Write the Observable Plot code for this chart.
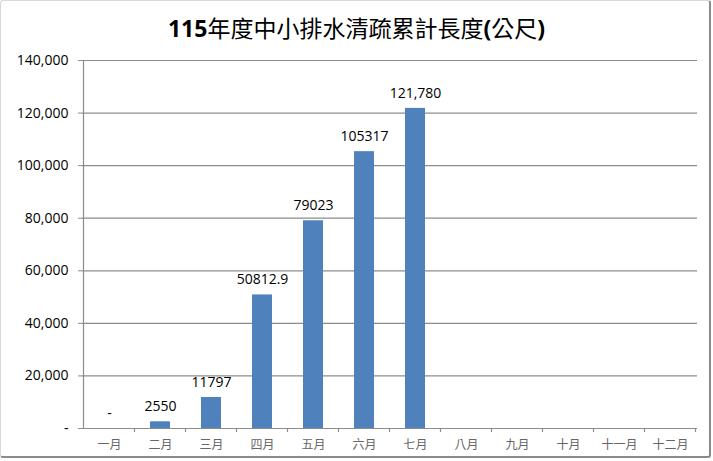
<!DOCTYPE html>
<html>
<head>
<meta charset="utf-8">
<script src="https://cdn.jsdelivr.net/npm/d3@7"></script>
<script src="https://cdn.jsdelivr.net/npm/@observablehq/plot@0.6"></script>
<style>
  html, body { margin: 0; padding: 0; background: #fff; }
  #wrap { position: relative; width: 713px; height: 461px; overflow: hidden; background: #fff; }
  #frame { position: absolute; left: 0; top: 0; width: 708px; height: 455px;
           border-top: 1px solid #d8d8d8; border-left: 1px solid #d8d8d8;
           border-right: 2px solid #8a8a8a; border-bottom: 2px solid #8a8a8a; border-radius: 3px; }
  #title { position: absolute; left: 0; top: 9px; width: 713px; text-align: center;
           font-family: "Noto Sans CJK TC", sans-serif; font-size: 23px; color: #000; line-height: 36px; }
  #title b { font-family: "Open Sans", "Noto Sans CJK TC", sans-serif; font-weight: 700; }
  #chart { position: absolute; left: 0; top: 45px; }
</style>
</head>
<body>
<div id="wrap">
  <div id="frame"></div>
  <div id="title"><b>115</b>年度中小排水清疏累計長度<b>(</b>公尺<b>)</b></div>
  <div id="chart"></div>
</div>
<script>
const months = ["一月","二月","三月","四月","五月","六月","七月","八月","九月","十月","十一月","十二月"];
const barMonths = ["一月","二月","三月","四月","五月","六月","七月"];
const values = [0, 2550, 11797, 50812.9, 79023, 105317, 121780];
const valueLabels = ["-", "2550", "11797", "50812.9", "79023", "105317", "121,780"];
const yTicks = [0, 20000, 40000, 60000, 80000, 100000, 120000, 140000];
const yTickLabels = ["-", "20,000", "40,000", "60,000", "80,000", "100,000", "120,000", "140,000"];

const data = barMonths.map((m, i) => ({month: m, value: values[i], label: valueLabels[i]}));
const fmtY = v => yTickLabels[yTicks.indexOf(v)];

const chart = Plot.plot({
  width: 713,
  height: 416,
  marginLeft: 82,
  marginRight: 16,
  marginTop: 15,
  marginBottom: 33,
  style: {fontFamily: "'Open Sans', sans-serif", background: "transparent"},
  x: {domain: months, paddingInner: 0.6, paddingOuter: 0.3, label: null},
  y: {domain: [0, 140000], label: null},
  marks: [
    Plot.gridY(yTicks, {stroke: "#8c8c8c", strokeOpacity: 1, strokeWidth: 1.2}),
    Plot.barY(data, {x: "month", y: "value", fill: "#4f81bd"}),
    Plot.text(data, {x: "month", y: "value", text: "label", dy: -15, fontSize: 14, fill: "#000"}),
    Plot.axisY(yTicks, {tickFormat: fmtY, tickSize: 4, tickPadding: 10, fontSize: 14, fill: "#000", stroke: "#8c8c8c", label: null}),
    Plot.axisX({tickSize: 0, tickPadding: 12, fontSize: 12, fill: "#666", fontFamily: "'Noto Sans CJK TC', sans-serif", label: null}),
    Plot.ruleY([0], {stroke: "#8c8c8c", strokeWidth: 1.2})
  ]
});
document.getElementById("chart").appendChild(chart);

// y-axis vertical line and category separator ticks, positioned via the scales
const svg = d3.select(chart);
const xs = chart.scale("x");
const ys = chart.scale("y");
const y0 = ys.apply(0);
const bw = xs.step;
const left = xs.apply(months[0]) - (bw - xs.bandwidth) / 2;
svg.append("line").attr("x1", left).attr("x2", left).attr("y1", ys.apply(140000)).attr("y2", y0)
  .attr("stroke", "#8c8c8c").attr("stroke-width", 1.2);
months.forEach((m, i) => {
  const xb = left + bw * (i + 1);
  svg.append("line").attr("x1", xb).attr("x2", xb).attr("y1", y0).attr("y2", y0 + 4)
    .attr("stroke", "#8c8c8c").attr("stroke-width", 1.2);
});
</script>
</body>
</html>
